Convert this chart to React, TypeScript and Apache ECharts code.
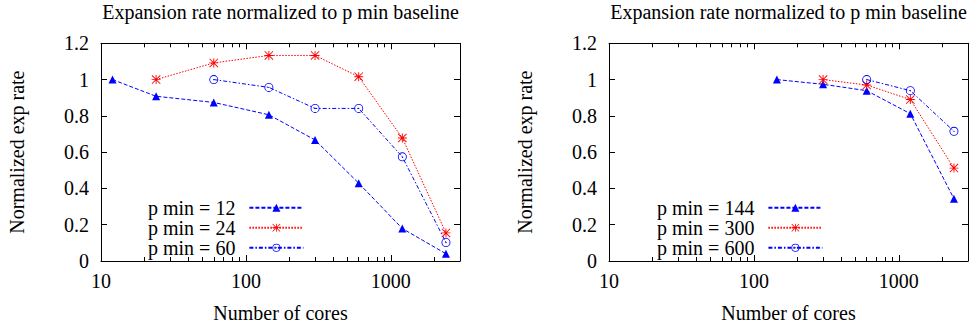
import React, { useEffect, useRef } from "react";
import * as echarts from "echarts";

const FONT = '"Liberation Serif", "Times New Roman", serif';

// Left panel
const coresL12 = [12, 24, 60, 144, 300, 600, 1200, 2400];
const rateL12 = [1.0, 0.908, 0.874, 0.806, 0.667, 0.429, 0.179, 0.04];
const coresL24 = [24, 60, 144, 300, 600, 1200, 2400];
const rateL24 = [1.0, 1.092, 1.133, 1.133, 1.016, 0.678, 0.155];
const coresL60 = [60, 144, 300, 600, 1200, 2400];
const rateL60 = [1.0, 0.957, 0.841, 0.841, 0.574, 0.102];

// Right panel
const coresR144 = [144, 300, 600, 1200, 2400];
const rateR144 = [1.0, 0.974, 0.939, 0.812, 0.343];
const coresR300 = [300, 600, 1200, 2400];
const rateR300 = [1.0, 0.97, 0.89, 0.512];
const coresR600 = [600, 1200, 2400];
const rateR600 = [1.0, 0.939, 0.715];

const namesLeft = ["p min = 12", "p min = 24", "p min = 60"];
const namesRight = ["p min = 144", "p min = 300", "p min = 600"];

const majorX = [10, 100, 1000];
const minorX = [20, 30, 40, 50, 60, 70, 80, 90, 200, 300, 400, 500, 600, 700, 800, 900, 2000, 3000];

const TITLE = "Expansion rate normalized to p min baseline";
const XNAME = "Number of cores";
const YNAME = "Normalized exp rate";

const STAR =
  "path://M9 0L11 0L11 20L9 20Z M0 9L20 9L20 11L0 11Z M1.4 0L20 18.6L18.6 20L0 1.4Z M18.6 0L20 1.4L1.4 20L0 18.6Z";
const CIRC =
  "path://M10 0A10 10 0 1 1 10 20A10 10 0 1 1 10 0Z M10 1.9A8.1 8.1 0 1 0 10 18.1A8.1 8.1 0 1 0 10 1.9Z M10 8.6A1.4 1.4 0 1 1 10 11.4A1.4 1.4 0 1 1 10 8.6Z";

const BLUE = "#0000ff";
const RED = "#ff0000";

export default function App() {
  const ref = useRef<HTMLDivElement>(null);
  useEffect(() => {
    if (!ref.current) return;
    const chart = echarts.init(ref.current, null, { renderer: "svg" });
    const gridLefts = [101, 609];
    const gw = 359;
    const gtop = 43.3;
    const gh = 219.4;

    const xAxes: any[] = [];
    const yAxes: any[] = [];
    gridLefts.forEach((_, i) => {
      const base = {
        gridIndex: i,
        type: "log",
        logBase: 10,
        min: 10,
        max: 3000,
        splitLine: { show: false },
        minorTick: { show: false },
      };
      ["bottom", "top"].forEach((pos) => {
        xAxes.push({
          ...base,
          position: pos,
          axisLine: { show: true, onZero: false, lineStyle: { color: "#000", width: 1 } },
          axisTick: { show: true, inside: true, length: 6, customValues: majorX, lineStyle: { color: "#000", width: 1 } },
          axisLabel: {
            show: pos === "bottom",
            margin: 10,
            customValues: majorX,
            formatter: (v: number) => String(Math.round(v)),
            fontFamily: FONT,
            fontSize: 20,
            color: "#000",
          },
          name: pos === "bottom" ? XNAME : "",
          nameLocation: "middle",
          nameGap: 42,
          nameTextStyle: { fontFamily: FONT, fontSize: 20, color: "#000" },
        });
        xAxes.push({
          ...base,
          position: pos,
          axisLine: { show: false, onZero: false },
          axisTick: { show: true, inside: true, length: 4, customValues: minorX, lineStyle: { color: "#000", width: 1 } },
          axisLabel: { show: false },
        });
      });
      ["left", "right"].forEach((pos) => {
        yAxes.push({
          gridIndex: i,
          type: "value",
          min: 0,
          max: 1.2,
          interval: 0.2,
          position: pos,
          splitLine: { show: false },
          axisLine: { show: true, onZero: false, lineStyle: { color: "#000", width: 1 } },
          axisTick: { show: true, inside: true, length: 6, lineStyle: { color: "#000", width: 1 } },
          axisLabel: {
            show: pos === "left",
            margin: 12,
            fontFamily: FONT,
            fontSize: 20,
            color: "#000",
          },
          name: pos === "left" ? YNAME : "",
          nameLocation: "middle",
          nameRotate: 90,
          nameGap: 74,
          nameTextStyle: { fontFamily: FONT, fontSize: 20, color: "#000" },
        });
      });
    });

    const mk = (
      name: string,
      panel: number,
      cores: number[],
      rates: number[],
      color: string,
      symbol: string,
      symbolSize: number,
      dash: number[]
    ) => ({
      name,
      type: "line",
      xAxisIndex: panel * 4,
      yAxisIndex: panel * 2,
      data: cores.map((c, k) => [c, rates[k]]),
      symbol,
      symbolSize,
      showSymbol: true,
      itemStyle: { color },
      lineStyle: { color, width: 1, type: dash },
      emphasis: { disabled: true },
    });

    const series = [
      mk(namesLeft[0], 0, coresL12, rateL12, BLUE, "triangle", 8, [4, 2]),
      mk(namesLeft[1], 0, coresL24, rateL24, RED, STAR, 9, [1.5, 1.5]),
      mk(namesLeft[2], 0, coresL60, rateL60, BLUE, CIRC, 9, [4, 2, 1.5, 2]),
      mk(namesRight[0], 1, coresR144, rateR144, BLUE, "triangle", 8, [4, 2]),
      mk(namesRight[1], 1, coresR300, rateR300, RED, STAR, 9, [1.5, 1.5]),
      mk(namesRight[2], 1, coresR600, rateR600, BLUE, CIRC, 9, [4, 2, 1.5, 2]),
    ];

    const legendBase = {
      orient: "vertical",
      align: "right",
      top: 197.7,
      padding: 0,
      itemGap: 0,
      itemWidth: 54,
      itemHeight: 10,
      selectedMode: false,
      textStyle: { fontFamily: FONT, fontSize: 20, color: "#000", padding: [0, 9, 0, 0] },
    };

    chart.setOption({
      animation: false,
      backgroundColor: "#fff",
      grid: gridLefts.map((l) => ({ left: l, top: gtop, width: gw, height: gh, containLabel: false })),
      xAxis: xAxes,
      yAxis: yAxes,
      legend: [
        { ...legendBase, left: 148, data: namesLeft },
        { ...legendBase, left: 657, data: namesRight },
      ],
      graphic: gridLefts.map((l) => ({
        type: "text",
        x: l + gw / 2,
        y: 2,
        style: {
          text: TITLE,
          align: "center",
          verticalAlign: "top",
          fontFamily: FONT,
          fontSize: 20,
          fill: "#000",
        },
      })),
      series,
    });
    return () => chart.dispose();
  }, []);
  return (
    <div
      ref={ref}
      style={{ position: "fixed", left: 0, top: 0, width: 977, height: 328 }}
    />
  );
}
